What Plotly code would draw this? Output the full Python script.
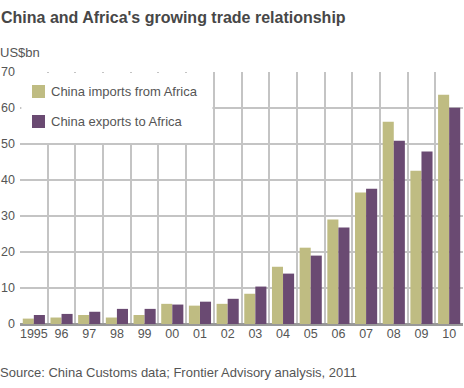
import plotly.graph_objects as go

years = ["1995", "96", "97", "98", "99", "00", "01", "02", "03", "04", "05", "06", "07", "08", "09", "10"]
imports_from_africa = [1.5, 1.8, 2.5, 1.8, 2.5, 5.6, 5.1, 5.6, 8.4, 15.9, 21.2, 29.0, 36.5, 56.2, 42.6, 63.7]
exports_to_africa = [2.5, 2.8, 3.4, 4.2, 4.2, 5.4, 6.2, 7.0, 10.4, 14.0, 19.0, 26.8, 37.6, 50.9, 47.9, 60.1]
y_ticks = [0, 10, 20, 30, 40, 50, 60, 70]
series_names = ["China imports from Africa", "China exports to Africa"]

IMP = "#bfbc82"
EXP = "#6a4a72"
GRID = "#c4c4c4"
TXT = "#555555"
FONT = "Liberation Sans, Arial, sans-serif"

W, H = 464, 388
ML, MR, MT, MB = 20, 1, 72, 64
PW, PH = W - ML - MR, H - MT - MB


def px_x(x):
    return (x - ML) / PW


def px_y(y):
    return 1 - (y - MT) / PH


fig = go.Figure()
fig.add_trace(go.Bar(x=years, y=imports_from_africa, name=series_names[0],
                     marker=dict(color=IMP, line=dict(width=0))))
fig.add_trace(go.Bar(x=years, y=exports_to_africa, name=series_names[1],
                     marker=dict(color=EXP, line=dict(width=0))))

# white panel behind legend hiding gridlines
fig.add_shape(type="rect", xref="x", yref="y", x0=-0.45, x1=6.45, y0=50.3, y1=69.7,
              fillcolor="white", line=dict(width=0), layer="between")

annotations = [
    dict(text="<b>China and Africa's growing trade relationship</b>", x=0, y=1, xref="paper", yref="paper",
         xanchor="left", yanchor="middle", showarrow=False, font=dict(size=16, color="#474747"),
         xshift=-21, yshift=MT - 17),
    dict(text="US$bn", x=0, y=1, xref="paper", yref="paper", xanchor="left", yanchor="middle",
         showarrow=False, font=dict(size=13, color=TXT), xshift=-22, yshift=MT - 52),
    dict(text="Source: China Customs data; Frontier Advisory analysis, 2011", x=0, y=0,
         xref="paper", yref="paper", xanchor="left", yanchor="middle", showarrow=False,
         font=dict(size=13, color=TXT), xshift=-22, yshift=-(372.5 - (H - MB))),
]

# manual legend
legend_rows = [(85, 98, 91.5, IMP), (115, 128, 121.5, EXP)]
for name, (y0, y1, yc, col) in zip(series_names, legend_rows):
    fig.add_shape(type="rect", xref="paper", yref="paper", x0=px_x(32), x1=px_x(45),
                  y0=px_y(y1), y1=px_y(y0), fillcolor=col, line=dict(width=0), layer="above")
    annotations.append(dict(text=name, x=px_x(49), y=px_y(yc), xref="paper", yref="paper",
                            xanchor="left", yanchor="middle", showarrow=False,
                            font=dict(size=13, color=TXT)))

fig.update_layout(
    width=W, height=H,
    margin=dict(l=ML, r=MR, t=MT, b=MB),
    paper_bgcolor="white", plot_bgcolor="white",
    font=dict(family=FONT, size=12, color=TXT),
    barmode="group", bargap=0.2, bargroupgap=0,
    showlegend=False,
    xaxis=dict(type="category", tickson="boundaries", showgrid=True, gridcolor=GRID, gridwidth=2,
               ticks="", showline=False, tickangle=0, automargin=False,
               tickfont=dict(size=12.5, color=TXT), range=[-0.5, 15.5]),
    yaxis=dict(range=[0, 70], tickvals=y_ticks, showgrid=True, gridcolor=GRID, gridwidth=2,
               zeroline=True, zerolinecolor="#999999", zerolinewidth=3, ticks="", automargin=False,
               ticklabelstandoff=4, tickfont=dict(size=12.5, color=TXT), showline=False),
    annotations=annotations,
)

fig.write_html("out.html", config={"displayModeBar": False},
               post_script="document.body.style.margin='0';document.body.style.overflow='hidden';")
